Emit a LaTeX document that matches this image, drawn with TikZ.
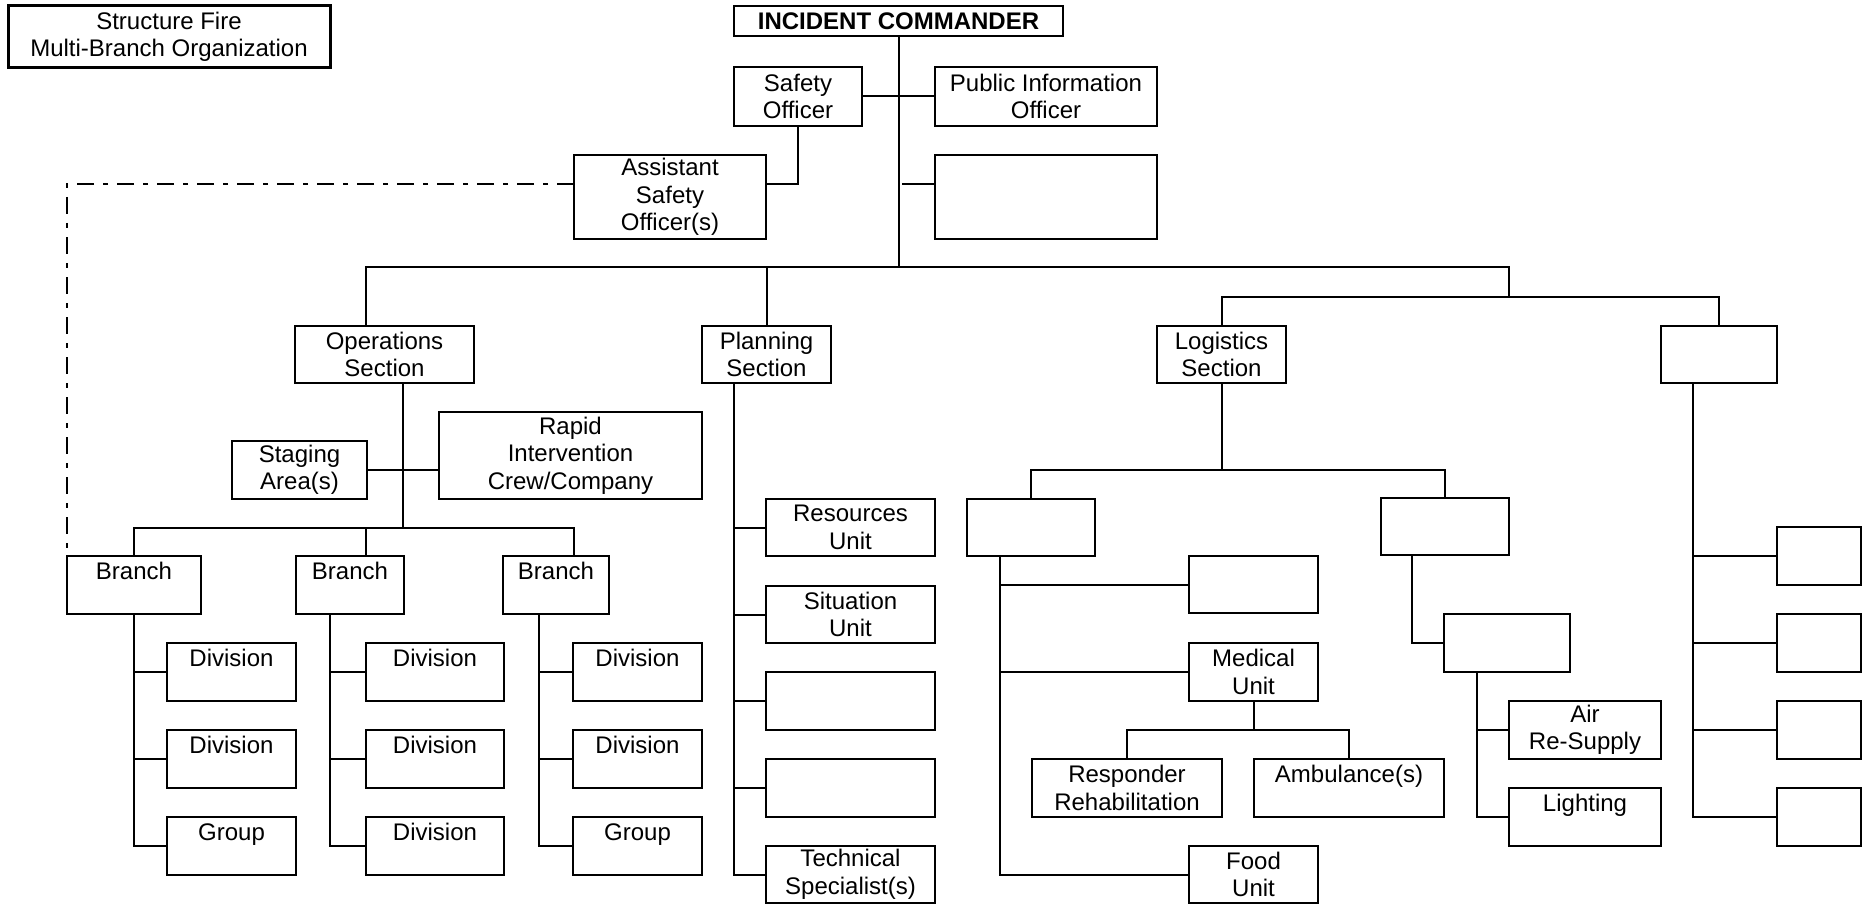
\documentclass[tikz,border=0pt]{standalone}
\usepackage{fontspec}
\setmainfont{Liberation Sans}
\tikzset{
  box/.style={draw, line width=2pt, inner sep=0pt, outer sep=0pt, align=center, font=\fontsize{24}{27.5}\selectfont},
  conn/.style={line width=2pt, line cap=rect},
  dashdot/.style={line width=2.8pt, dash pattern=on 17pt off 9pt on 5pt off 9pt}
}
\newcommand\orgbox[6]{\node[box, minimum width={#4-#2}, minimum height={#5-#3}] (#1) at ({(#2+#4)/2},{(#3+#5)/2}) {#6};}
\newcommand\toptext[1]{#1\\[-8pt]\strut}
\begin{document}
\begin{tikzpicture}[x=1pt,y=-1pt]
\useasboundingbox (0,0) rectangle (1865,904);
% top
\node[box, line width=3pt, minimum width=322, minimum height=62] (title) at (169,37) {Structure Fire\\Multi-Branch Organization};
\orgbox{ic}{734}{6}{1063}{36}{\bfseries INCIDENT COMMANDER}
\orgbox{safety}{734}{67}{862}{126}{Safety\\Officer}
\orgbox{pio}{935}{67}{1157}{126}{Public Information\\Officer}
\orgbox{asst}{574}{155}{766}{239}{Assistant\\Safety\\Officer(s)}
\orgbox{blanka}{935}{155}{1157}{239}{}
% sections
\orgbox{ops}{295}{326}{474}{383}{Operations\\Section}
\orgbox{plan}{702}{326}{831}{383}{Planning\\Section}
\orgbox{log}{1157}{326}{1286}{383}{Logistics\\Section}
\orgbox{fin}{1661}{326}{1777}{383}{}
% operations
\orgbox{staging}{232}{441}{367}{499}{Staging\\Area(s)}
\orgbox{ric}{439}{412}{702}{499}{Rapid\\Intervention\\Crew/Company}
\orgbox{br1}{67}{556}{201}{614}{\toptext{Branch}}
\orgbox{br2}{296}{556}{404}{614}{\toptext{Branch}}
\orgbox{br3}{503}{556}{609}{614}{\toptext{Branch}}
\orgbox{d11}{167}{643}{296}{701}{\toptext{Division}}
\orgbox{d12}{167}{730}{296}{788}{\toptext{Division}}
\orgbox{d13}{167}{817}{296}{875}{\toptext{Group}}
\orgbox{d21}{366}{643}{504}{701}{\toptext{Division}}
\orgbox{d22}{366}{730}{504}{788}{\toptext{Division}}
\orgbox{d23}{366}{817}{504}{875}{\toptext{Division}}
\orgbox{d31}{573}{643}{702}{701}{\toptext{Division}}
\orgbox{d32}{573}{730}{702}{788}{\toptext{Division}}
\orgbox{d33}{573}{817}{702}{875}{\toptext{Group}}
% planning
\orgbox{p1}{766}{499}{935}{556}{Resources\\Unit}
\orgbox{p2}{766}{586}{935}{643}{Situation\\Unit}
\orgbox{p3}{766}{672}{935}{730}{}
\orgbox{p4}{766}{759}{935}{817}{}
\orgbox{p5}{766}{846}{935}{903}{Technical\\Specialist(s)}
% logistics
\orgbox{lsuba}{967}{499}{1095}{556}{}
\orgbox{lsubb}{1381}{498}{1509}{555}{}
\orgbox{laa}{1189}{556}{1318}{613}{}
\orgbox{medical}{1189}{643}{1318}{701}{Medical\\Unit}
\orgbox{rehab}{1032}{759}{1222}{817}{Responder\\Rehabilitation}
\orgbox{amb}{1254}{759}{1444}{817}{\toptext{Ambulance(s)}}
\orgbox{food}{1189}{846}{1318}{903}{Food\\Unit}
\orgbox{lba}{1444}{614}{1570}{672}{}
\orgbox{air}{1509}{701}{1661}{759}{Air\\Re-Supply}
\orgbox{light}{1509}{788}{1661}{846}{\toptext{Lighting}}
% right column
\orgbox{ra}{1777}{527}{1861}{585}{}
\orgbox{rb}{1777}{614}{1861}{672}{}
\orgbox{rc}{1777}{701}{1861}{759}{}
\orgbox{rd}{1777}{788}{1861}{846}{}

% ---------- connectors ----------
\coordinate (mbl) at (366,267);
\coordinate (mbr) at (1509,267);
\coordinate (rbar) at (1509,297);
\coordinate (k1) at (903,184);
\draw[conn] (ic.south) -- (ic.south |- mbl);
\draw[conn] (mbl) -- (mbr) -- (rbar);
\draw[conn] (mbl) -- (mbl |- ops.north);
\draw[conn] (plan.north) -- (plan.north |- mbl);
\draw[conn] (log.north) -- (log.north |- rbar) -- (fin.north |- rbar) -- (fin.north);
\draw[conn] (safety.east) -- (pio.west);
\draw[conn] (k1) -- (k1 -| blanka.west);
\draw[conn] (safety.south) -- (safety.south |- k1) -- (k1 -| asst.east);
\draw[dashdot] (k1 -| asst.west) -- (br1.north west |- k1) -- (br1.north west);
% operations
\coordinate (brbar) at (403,528);
\coordinate (bb2) at (366,528);
\coordinate (bb3) at (574,528);
\draw[conn] (brbar |- ops.south) -- (brbar);
\draw[conn] (staging.east) -- (staging.east -| ric.west);
\draw[conn] (br1.north) -- (br1.north |- brbar) -- (bb3) -- (bb3 |- br3.north);
\draw[conn] (bb2) -- (bb2 |- br2.north);
\coordinate (ca) at (134,0);
\coordinate (cb) at (330,0);
\coordinate (cc) at (539,0);
\draw[conn] (ca |- br1.south) -- (ca |- d13.west);
\draw[conn] (cb |- br2.south) -- (cb |- d23.west);
\draw[conn] (cc |- br3.south) -- (cc |- d33.west);
\foreach \c/\n in {ca/1,cb/2,cc/3}{
  \foreach \r in {1,2,3}{
    \draw[conn] (\c |- d\n\r.west) -- (d\n\r.west);
  }
}
% planning
\coordinate (pc) at (734,0);
\draw[conn] (pc |- plan.south) -- (pc |- p5.west);
\foreach \r in {1,...,5}{\draw[conn] (pc |- p\r.west) -- (p\r.west);}
% logistics
\coordinate (lbar) at (1222,470);
\draw[conn] (log.south) -- (log.south |- lbar);
\draw[conn] (lsuba.north) -- (lsuba.north |- lbar) -- (lsubb.north |- lbar) -- (lsubb.north);
\coordinate (lca) at (1000,0);
\draw[conn] (lca |- lsuba.south) -- (lca |- food.west);
\foreach \b in {laa,medical,food}{\draw[conn] (lca |- \b.west) -- (\b.west);}
\coordinate (mbar) at (1254,730);
\draw[conn] (medical.south) -- (medical.south |- mbar);
\draw[conn] (rehab.north) -- (rehab.north |- mbar) -- (amb.north |- mbar) -- (amb.north);
\coordinate (lcb) at (1412,0);
\draw[conn] (lcb |- lsubb.south) -- (lcb |- lba.west) -- (lba.west);
\coordinate (lcc) at (1477,0);
\draw[conn] (lcc |- lba.south) -- (lcc |- light.west);
\foreach \b in {air,light}{\draw[conn] (lcc |- \b.west) -- (\b.west);}
% right
\coordinate (fc) at (1693,0);
\draw[conn] (fc |- fin.south) -- (fc |- rd.west);
\foreach \b in {ra,rb,rc,rd}{\draw[conn] (fc |- \b.west) -- (\b.west);}
\end{tikzpicture}
\end{document}
